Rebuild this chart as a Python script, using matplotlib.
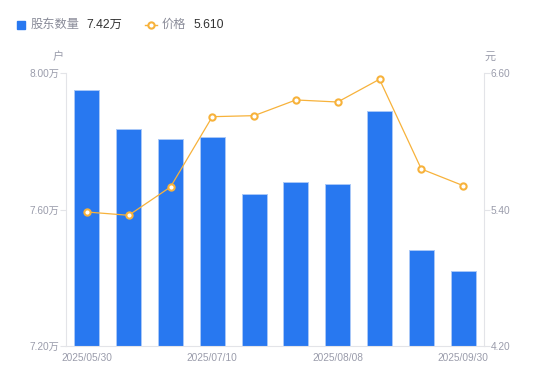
import matplotlib
matplotlib.use('Agg')
import matplotlib.pyplot as plt
from matplotlib.patches import Rectangle
from matplotlib.lines import Line2D
import numpy as np

plt.rcParams['font.family'] = ['Liberation Sans', 'Noto Sans CJK SC', 'DejaVu Sans']

dates = ['2025/05/30', '', '', '2025/07/10', '', '', '2025/08/08', '', '', '2025/09/30']
holders = [7.950, 7.836, 7.808, 7.813, 7.645, 7.681, 7.674, 7.889, 7.480, 7.419]  # 万户
price = [5.378, 5.349, 5.598, 6.216, 6.225, 6.363, 6.345, 6.545, 5.756, 5.610]

left_ticks = [7.20, 7.60, 8.00]
right_ticks = [4.20, 5.40, 6.60]

blue = '#2878f0'
orange = '#f7b23b'
gray = '#9a9cab'
axis_col = '#e3e4e8'

fig = plt.figure(figsize=(5.5, 3.81), dpi=100)
ax = fig.add_axes([66 / 550, 1 - 346 / 381, 418 / 550, 273 / 381])
ax2 = ax.twinx()

x = np.arange(len(holders))
ax.bar(x, holders, width=0.6, color=blue, edgecolor='#a9c8f8', linewidth=0.7, zorder=2)
ax.set_xlim(-0.5, len(holders) - 0.5)
ax.set_ylim(left_ticks[0], left_ticks[-1])
ax.set_yticks(left_ticks)
ax.set_yticklabels([f'{v:.2f}万' for v in left_ticks])
ax.set_xticks(x)
ax.set_xticklabels(dates)

ax2.plot(x, price, color=orange, linewidth=0.9, marker='o', markersize=4.5,
         markerfacecolor='white', markeredgecolor=orange, markeredgewidth=1.5, zorder=3)
ax2.set_ylim(right_ticks[0], right_ticks[-1])
ax2.set_yticks(right_ticks)
ax2.set_yticklabels([f'{v:.2f}' for v in right_ticks])

for a in (ax, ax2):
    a.spines['top'].set_visible(False)
    a.spines['left'].set_color(axis_col)
    a.spines['right'].set_color(axis_col)
    a.spines['bottom'].set_color(axis_col)
    a.tick_params(axis='y', colors=axis_col, labelcolor=gray, labelsize=7.3, length=4, width=0.8, pad=1)
ax.tick_params(axis='x', length=0, labelcolor=gray, labelsize=7.3, pad=5)
ax.spines['right'].set_visible(False)
ax2.spines['left'].set_visible(False)
ax2.spines['bottom'].set_visible(False)
ax.set_zorder(ax2.get_zorder() - 1)
ax2.patch.set_visible(False)

fig.text(58 / 550, 1 - 57 / 381, '户', color=gray, fontsize=8, ha='center', va='center')
fig.text(490 / 550, 1 - 57 / 381, '元', color=gray, fontsize=8, ha='center', va='center')

# legend
fig.patches.append(Rectangle((17 / 550, 1 - 29 / 381), 8 / 550, 8 / 381,
                             transform=fig.transFigure, color=blue, figure=fig))
fig.text(31 / 550, 1 - 25 / 381, '股东数量', color='#8a8c99', fontsize=8.8, va='center')
fig.text(86 / 550, 1 - 25 / 381, '7.42万', color='#333333', fontsize=8.8, va='center')
fig.lines.append(Line2D([145 / 550, 157 / 550], [1 - 25 / 381, 1 - 25 / 381],
                        transform=fig.transFigure, color=orange, linewidth=1,
                        figure=fig))
fig.lines.append(Line2D([151 / 550], [1 - 25 / 381], transform=fig.transFigure,
                        marker='o', markersize=4.5, markerfacecolor='white',
                        markeredgecolor=orange, markeredgewidth=1.5, figure=fig))
fig.text(162 / 550, 1 - 25 / 381, '价格', color='#8a8c99', fontsize=8.8, va='center')
fig.text(193 / 550, 1 - 25 / 381, '5.610', color='#333333', fontsize=8.8, va='center')

fig.savefig('out.png', dpi=100)
